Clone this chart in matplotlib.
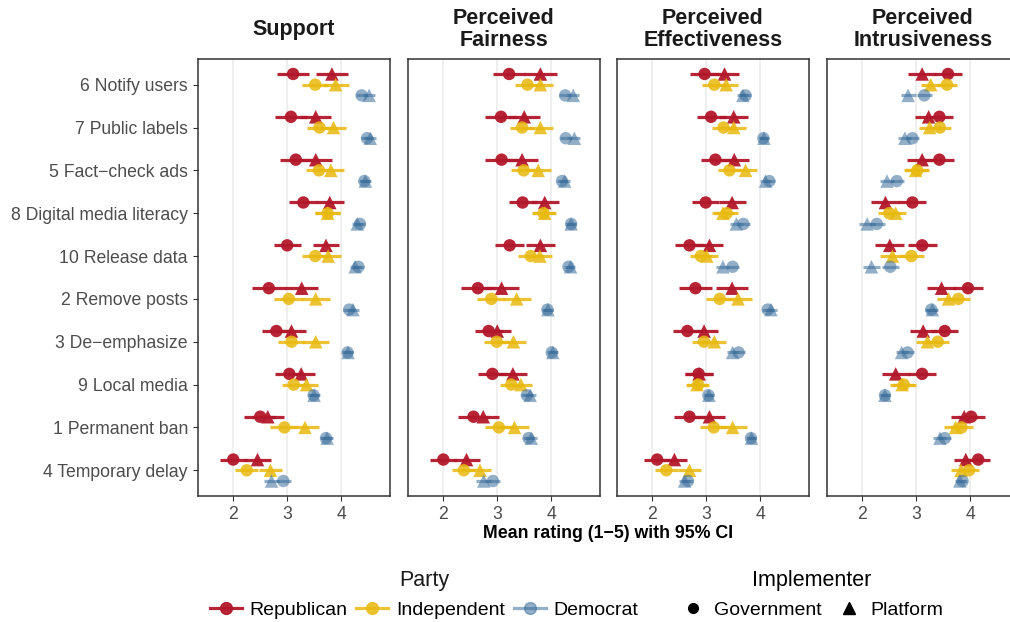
import numpy as np
import matplotlib
matplotlib.use("Agg")
import matplotlib.pyplot as plt
from matplotlib.lines import Line2D

plt.rcParams['font.family'] = ['Liberation Sans', 'DejaVu Sans']

# policies, top to bottom
policies = ['6 Notify users', '7 Public labels', '5 Fact\u2212check ads', '8 Digital media literacy',
            '10 Release data', '2 Remove posts', '3 De\u2212emphasize', '9 Local media',
            '1 Permanent ban', '4 Temporary delay']
facets = ['Support', 'Perceived\nFairness', 'Perceived\nEffectiveness', 'Perceived\nIntrusiveness']
parties = ['Republican', 'Independent', 'Democrat']

# Support
support_rep_gov = [3.11, 3.07, 3.16, 3.30, 3.00, 2.66, 2.80, 3.04, 2.50, 2.00]
support_rep_plat = [3.83, 3.53, 3.53, 3.79, 3.72, 3.27, 3.08, 3.26, 2.64, 2.45]
support_ind_gov = [3.52, 3.60, 3.59, 3.75, 3.52, 3.03, 3.08, 3.12, 2.95, 2.25]
support_ind_plat = [3.90, 3.86, 3.81, 3.75, 3.76, 3.53, 3.53, 3.36, 3.33, 2.69]
support_dem_gov = [4.38, 4.48, 4.43, 4.35, 4.32, 4.15, 4.12, 3.49, 3.72, 2.93]
support_dem_plat = [4.52, 4.54, 4.45, 4.30, 4.26, 4.22, 4.13, 3.50, 3.74, 2.71]
support_rep_ci = [0.29, 0.29, 0.30, 0.26, 0.25, 0.31, 0.27, 0.26, 0.30, 0.25]
support_ind_ci = [0.24, 0.23, 0.25, 0.23, 0.24, 0.27, 0.25, 0.21, 0.26, 0.21]
support_dem_ci = [0.11, 0.11, 0.10, 0.10, 0.10, 0.11, 0.10, 0.10, 0.11, 0.14]

# Perceived fairness
fair_rep_gov = [3.22, 3.07, 3.08, 3.47, 3.23, 2.64, 2.84, 2.91, 2.56, 2.00]
fair_rep_plat = [3.80, 3.50, 3.46, 3.88, 3.80, 3.08, 3.00, 3.29, 2.74, 2.43]
fair_ind_gov = [3.56, 3.46, 3.49, 3.86, 3.62, 2.89, 2.99, 3.26, 3.03, 2.38]
fair_ind_plat = [3.80, 3.80, 3.76, 3.88, 3.79, 3.36, 3.30, 3.44, 3.32, 2.68]
fair_dem_gov = [4.26, 4.27, 4.20, 4.37, 4.32, 3.93, 4.01, 3.55, 3.58, 2.92]
fair_dem_plat = [4.41, 4.43, 4.25, 4.37, 4.36, 3.94, 4.03, 3.61, 3.63, 2.75]
fair_rep_ci = [0.30, 0.30, 0.30, 0.26, 0.27, 0.32, 0.26, 0.27, 0.29, 0.25]
fair_ind_ci = [0.23, 0.23, 0.24, 0.21, 0.23, 0.26, 0.24, 0.21, 0.26, 0.21]
fair_dem_ci = [0.11, 0.11, 0.10, 0.09, 0.09, 0.10, 0.09, 0.11, 0.11, 0.14]

# Perceived effectiveness
eff_rep_gov = [2.97, 3.09, 3.17, 2.99, 2.69, 2.80, 2.65, 2.86, 2.69, 2.09]
eff_rep_plat = [3.34, 3.51, 3.52, 3.48, 3.06, 3.48, 2.96, 2.87, 3.06, 2.41]
eff_ind_gov = [3.15, 3.32, 3.43, 3.38, 2.90, 3.25, 2.96, 2.85, 3.14, 2.26]
eff_ind_plat = [3.37, 3.51, 3.73, 3.31, 3.01, 3.59, 3.15, 2.83, 3.49, 2.69]
eff_dem_gov = [3.73, 4.06, 4.17, 3.69, 3.49, 4.14, 3.60, 3.04, 3.83, 2.66]
eff_dem_plat = [3.68, 4.07, 4.10, 3.56, 3.31, 4.20, 3.49, 3.05, 3.84, 2.60]
eff_rep_ci = [0.27, 0.27, 0.27, 0.25, 0.26, 0.30, 0.26, 0.26, 0.29, 0.24]
eff_ind_ci = [0.22, 0.22, 0.22, 0.21, 0.21, 0.25, 0.22, 0.21, 0.26, 0.21]
eff_dem_ci = [0.10, 0.09, 0.10, 0.12, 0.12, 0.11, 0.11, 0.09, 0.09, 0.10]

# Perceived intrusiveness
intr_rep_gov = [3.59, 3.43, 3.43, 2.93, 3.11, 3.96, 3.53, 3.11, 4.02, 4.15]
intr_rep_plat = [3.11, 3.23, 3.11, 2.43, 2.51, 3.47, 3.13, 2.62, 3.89, 3.92]
intr_ind_gov = [3.57, 3.44, 3.02, 2.50, 2.91, 3.78, 3.40, 2.77, 3.84, 3.98]
intr_ind_plat = [3.27, 3.25, 2.99, 2.62, 2.56, 3.60, 3.21, 2.74, 3.73, 3.83]
intr_dem_gov = [3.15, 2.93, 2.64, 2.27, 2.52, 3.28, 2.84, 2.42, 3.53, 3.86]
intr_dem_plat = [2.85, 2.79, 2.46, 2.09, 2.17, 3.30, 2.73, 2.42, 3.44, 3.81]
intr_rep_ci = [0.26, 0.25, 0.28, 0.26, 0.27, 0.27, 0.25, 0.26, 0.25, 0.22]
intr_ind_ci = [0.19, 0.20, 0.22, 0.20, 0.23, 0.21, 0.21, 0.22, 0.22, 0.19]
intr_dem_ci = [0.14, 0.12, 0.13, 0.15, 0.16, 0.11, 0.11, 0.09, 0.12, 0.09]

panel_data = [
    [(support_rep_gov, support_rep_plat, support_rep_ci),
     (support_ind_gov, support_ind_plat, support_ind_ci),
     (support_dem_gov, support_dem_plat, support_dem_ci)],
    [(fair_rep_gov, fair_rep_plat, fair_rep_ci),
     (fair_ind_gov, fair_ind_plat, fair_ind_ci),
     (fair_dem_gov, fair_dem_plat, fair_dem_ci)],
    [(eff_rep_gov, eff_rep_plat, eff_rep_ci),
     (eff_ind_gov, eff_ind_plat, eff_ind_ci),
     (eff_dem_gov, eff_dem_plat, eff_dem_ci)],
    [(intr_rep_gov, intr_rep_plat, intr_rep_ci),
     (intr_ind_gov, intr_ind_plat, intr_ind_ci),
     (intr_dem_gov, intr_dem_plat, intr_dem_ci)],
]

party_colors = {'Republican': '#B2182B', 'Independent': '#E8B90E', 'Democrat': '#3B6E9C'}
party_alpha = {'Republican': 0.95, 'Independent': 0.85, 'Democrat': 0.55}
party_offset = {'Republican': -0.25, 'Independent': 0.0, 'Democrat': 0.25}

fig = plt.figure(figsize=(10.1, 6.22), dpi=100)

lefts = [0.1957, 0.4037, 0.6106, 0.8185]
bottom, width, height = 0.2026, 0.1906, 0.7026
y = np.arange(len(policies))

for k, facet in enumerate(facets):
    ax = fig.add_axes([lefts[k], bottom, width, height])
    for p, party in enumerate(parties):
        gov, plat, ci = [np.array(a) for a in panel_data[k][p]]
        c = party_colors[party]
        a = party_alpha[party]
        yy = y + party_offset[party]
        ax.hlines(yy, gov - ci, gov + ci, color=c, alpha=a, lw=2.3, zorder=2)
        ax.hlines(yy, plat - ci, plat + ci, color=c, alpha=a, lw=2.3, zorder=2)
        ax.scatter(gov, yy, marker='o', s=80, color=c, alpha=a, edgecolors='none', zorder=3)
        ax.scatter(plat, yy, marker='^', s=95, color=c, alpha=a, edgecolors='none', zorder=3)

    ax.set_xlim(1.34, 4.91)
    ax.set_ylim(9.6, -0.6)
    ax.set_xticks([2, 3, 4])
    ax.grid(axis='x', color='#EBEBEB', lw=1.1, zorder=0)
    ax.set_axisbelow(True)
    for s in ax.spines.values():
        s.set_color('#333333')
        s.set_linewidth(1.1)
    ax.tick_params(axis='x', labelsize=12.7, labelcolor='#4D4D4D', color='#333333', length=3.5)
    ax.set_yticks(y)
    if k == 0:
        ax.set_yticklabels(policies)
        ax.tick_params(axis='y', labelsize=12.7, labelcolor='#4D4D4D', color='#333333', length=3.5)
    else:
        ax.tick_params(axis='y', left=False, labelleft=False)
    ax.text(0.5, 1.0675, facet, transform=ax.transAxes, ha='center', va='center',
            fontsize=15.5, fontweight='bold', color='#1A1A1A', linespacing=1.05)

fig.text(0.602, 0.143, 'Mean rating (1\u22125) with 95% CI', ha='center', va='center',
         fontsize=12.8, fontweight='bold')

# legends
party_handles = [Line2D([], [], color=party_colors[p], alpha=party_alpha[p], lw=2.3,
                        marker='o', markersize=8.5) for p in parties]
leg1 = fig.legend(party_handles, parties, title='Party', ncol=3, loc='center',
                  bbox_to_anchor=(0.42, 0.044), frameon=False, fontsize=14,
                  title_fontsize=15.5, handlelength=1.65, columnspacing=0.45, handletextpad=0.4)
leg1.get_title().set_color('#1A1A1A')

impl_handles = [Line2D([], [], color='black', lw=0, marker='o', markersize=7),
                Line2D([], [], color='black', lw=0, marker='^', markersize=8)]
leg2 = fig.legend(impl_handles, ['Government', 'Platform'], title='Implementer', ncol=2, loc='center',
                  bbox_to_anchor=(0.804, 0.044), frameon=False, fontsize=14,
                  title_fontsize=15.5, handlelength=1.2, columnspacing=0.8, handletextpad=0.5)

fig.savefig('out.png', dpi=100)
